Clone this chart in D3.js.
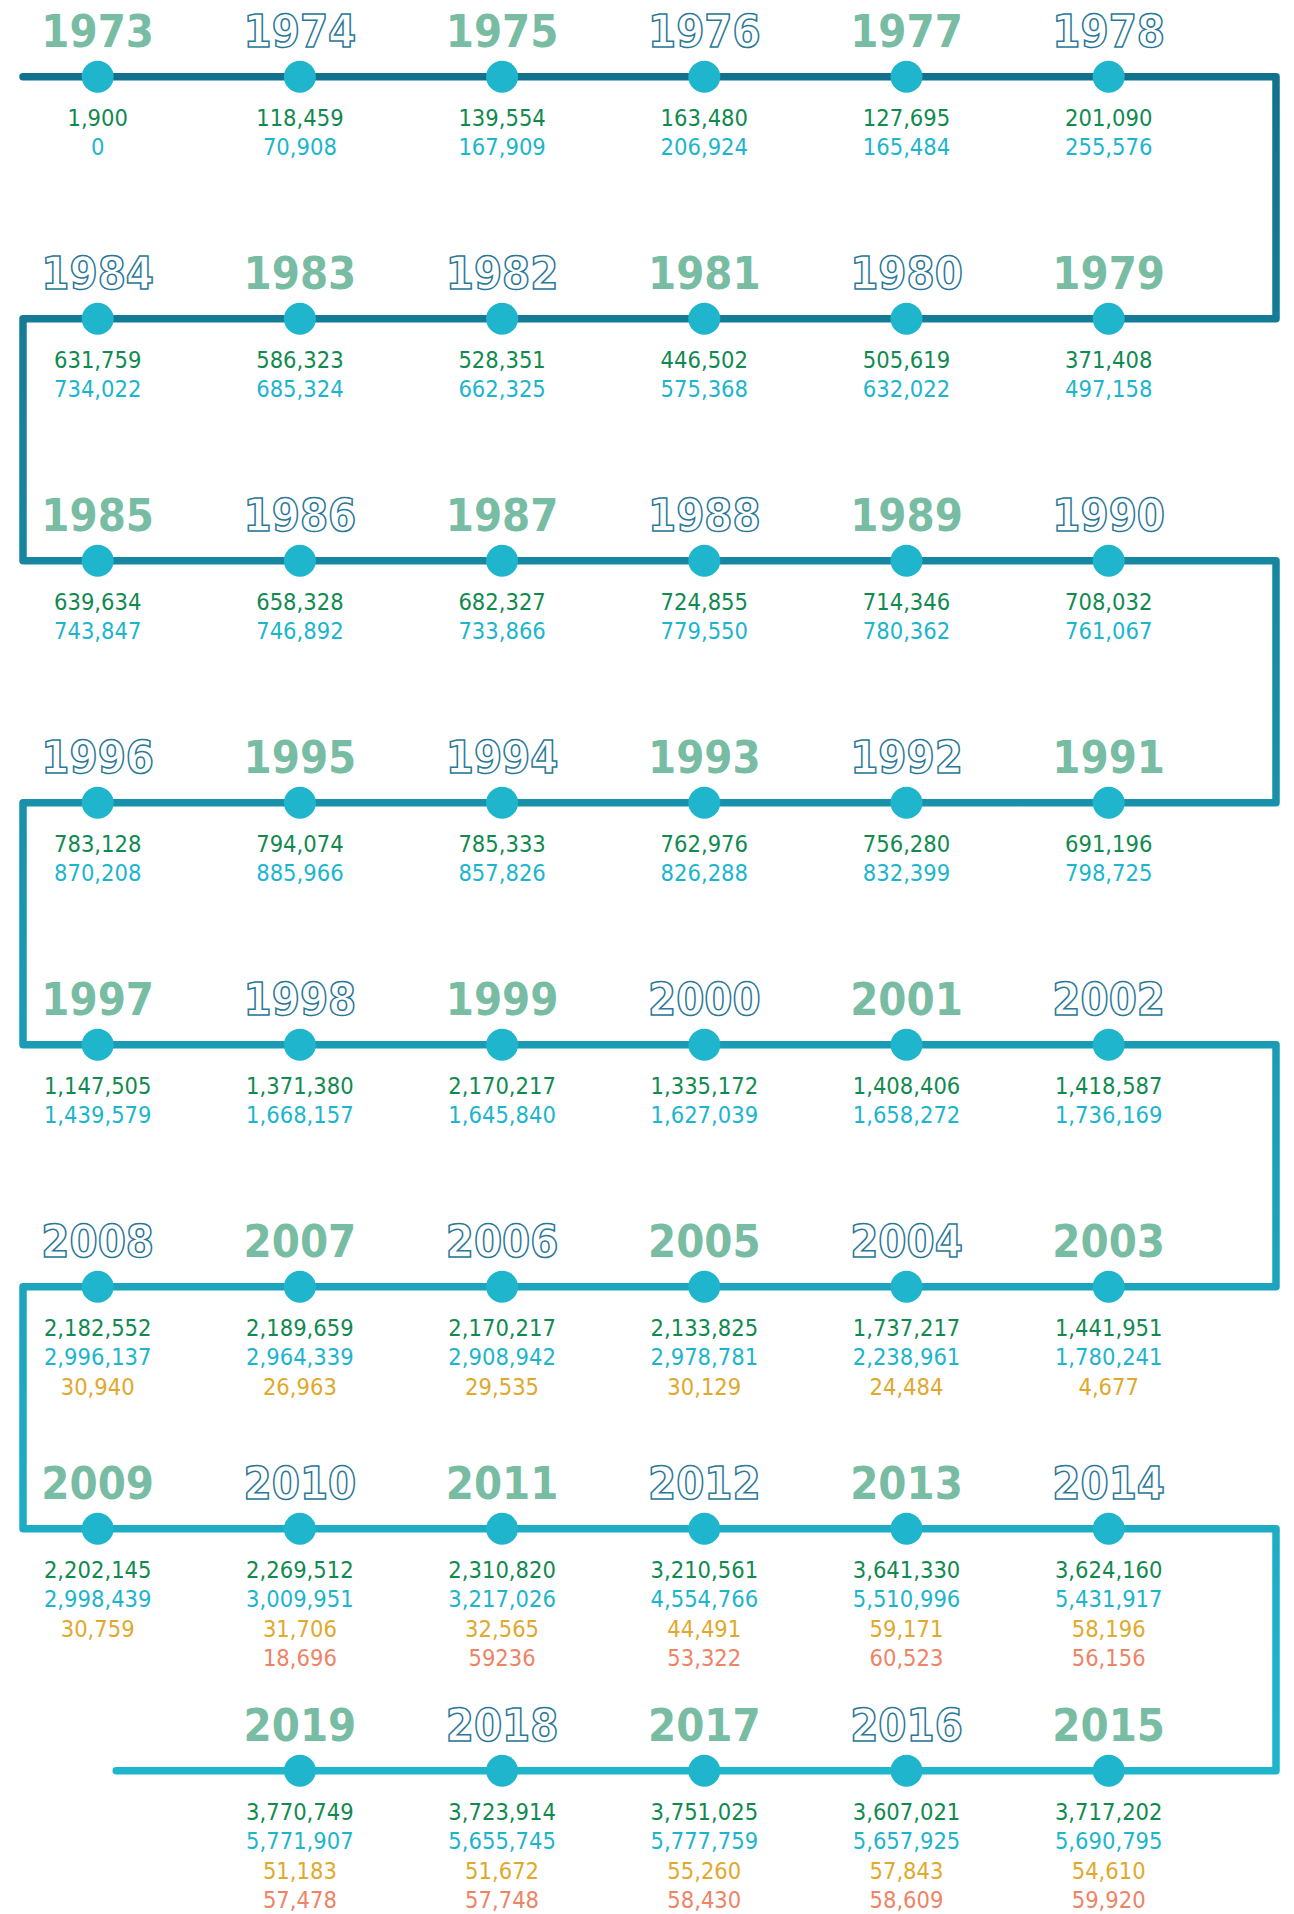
<!DOCTYPE html>
<html>
<head>
<meta charset="utf-8">
<script src="https://cdn.jsdelivr.net/npm/d3@7"></script>
<style>
  html, body { margin: 0; padding: 0; background: #ffffff; }
  svg { display: block; }
</style>
</head>
<body>
<svg id="chart" width="1294" height="1914"></svg>
<script>
// ---- DATA ----
const years = [1973,1974,1975,1976,1977,1978,1979,1980,1981,1982,1983,1984,1985,1986,1987,1988,1989,1990,
  1991,1992,1993,1994,1995,1996,1997,1998,1999,2000,2001,2002,2003,2004,2005,2006,2007,2008,2009,2010,2011,
  2012,2013,2014,2015,2016,2017,2018,2019];

const seriesGreen = [1900,118459,139554,163480,127695,201090,371408,505619,446502,528351,586323,631759,
  639634,658328,682327,724855,714346,708032,691196,756280,762976,785333,794074,783128,
  1147505,1371380,2170217,1335172,1408406,1418587,1441951,1737217,2133825,2170217,2189659,2182552,
  2202145,2269512,2310820,3210561,3641330,3624160,3717202,3607021,3751025,3723914,3770749];

const seriesCyan = [0,70908,167909,206924,165484,255576,497158,632022,575368,662325,685324,734022,
  743847,746892,733866,779550,780362,761067,798725,832399,826288,857826,885966,870208,
  1439579,1668157,1645840,1627039,1658272,1736169,1780241,2238961,2978781,2908942,2964339,2996137,
  2998439,3009951,3217026,4554766,5510996,5431917,5690795,5657925,5777759,5655745,5771907];

const seriesGold = [null,null,null,null,null,null,null,null,null,null,null,null,
  null,null,null,null,null,null,null,null,null,null,null,null,
  null,null,null,null,null,null,4677,24484,30129,29535,26963,30940,
  30759,31706,32565,44491,59171,58196,54610,57843,55260,51672,51183];

const seriesSalmon = [null,null,null,null,null,null,null,null,null,null,null,null,
  null,null,null,null,null,null,null,null,null,null,null,null,
  null,null,null,null,null,null,null,null,null,null,null,null,
  null,18696,59236,53322,60523,56156,59920,58609,58430,57748,57478];

// labels printed without thousands separator in the source
const plainLabels = [{ year: 2011, series: "salmon" }];

// ---- LAYOUT ----
const perRow = 6;
const nRows = 8;
const seriesDefs = [
  { key: "green",  values: seriesGreen,  color: "#118a50" },
  { key: "cyan",   values: seriesCyan,   color: "#1db5cd" },
  { key: "gold",   values: seriesGold,   color: "#e0a92d" },
  { key: "salmon", values: seriesSalmon, color: "#ef8365" }
];

const svg = d3.select("#chart");
const colX = d3.scaleLinear().domain([0, perRow - 1]).range([97.7, 1108.7]);
const rowY = d3.scaleLinear().domain([0, nRows - 1]).range([76.7, 76.7 + 7 * 242]);
const leftX = 23, rightX = 1276;

const fmt = d3.format(",");

const items = years.map((y, i) => {
  const row = Math.floor(i / perRow);
  const pos = i % perRow;
  const col = row % 2 === 0 ? pos : perRow - 1 - pos;
  return { year: y, i, row, col };
});

// gradient for the path
const defs = svg.append("defs");
const grad = defs.append("linearGradient")
  .attr("id", "pathGrad")
  .attr("gradientUnits", "userSpaceOnUse")
  .attr("x1", 0).attr("x2", 0)
  .attr("y1", rowY(0)).attr("y2", rowY(nRows - 1));
grad.append("stop").attr("offset", "0%").attr("stop-color", "#12718d");
grad.append("stop").attr("offset", "55%").attr("stop-color", "#1a9ab3");
grad.append("stop").attr("offset", "100%").attr("stop-color", "#1db6cd");

// serpentine path
const pts = [];
for (let r = 0; r < nRows; r++) {
  const y = rowY(r);
  const ltr = r % 2 === 0;
  if (r === 0) pts.push([leftX, y]);
  if (r === nRows - 1) {
    pts.push([rightX, y]);
    pts.push([colX(0) + 18.5, y]);
  } else {
    if (ltr) { if (r !== 0) pts.push([leftX, y]); pts.push([rightX, y]); }
    else { pts.push([rightX, y]); pts.push([leftX, y]); }
  }
}
svg.append("path")
  .attr("d", d3.line()(pts))
  .attr("fill", "none")
  .attr("stroke", "url(#pathGrad)")
  .attr("stroke-width", 7.5)
  .attr("stroke-linejoin", "round")
  .attr("stroke-linecap", "round");

const g = svg.selectAll("g.item").data(items).enter().append("g")
  .attr("class", "item")
  .attr("transform", d => `translate(${colX(d.col)},${rowY(d.row)})`);

g.append("circle")
  .attr("r", 16)
  .attr("fill", "#1fb5cc");

g.append("text")
  .attr("y", -30)
  .attr("text-anchor", "middle")
  .attr("font-family", "'DejaVu Sans Condensed', 'DejaVu Sans', sans-serif")
  .attr("font-weight", "bold")
  .attr("font-size", 45)
  .attr("fill", d => d.year % 2 === 1 ? "#77bca3" : "#ffffff")
  .attr("stroke", d => d.year % 2 === 1 ? "none" : "#2a7898")
  .attr("stroke-width", 1.5)
  .text(d => d.year);

g.each(function(d) {
  const sel = d3.select(this);
  let line = 0;
  seriesDefs.forEach(s => {
    const v = s.values[d.i];
    if (v === null || v === undefined) return;
    const plain = plainLabels.some(p => p.year === d.year && p.series === s.key);
    sel.append("text")
      .attr("y", 49 + line * 29.6)
      .attr("text-anchor", "middle")
      .attr("font-family", "'DejaVu Sans Condensed', 'DejaVu Sans', sans-serif")
      .attr("font-size", 23.5)
      .attr("fill", s.color)
      .text(plain ? String(v) : fmt(v));
    line++;
  });
});
</script>
</body>
</html>
